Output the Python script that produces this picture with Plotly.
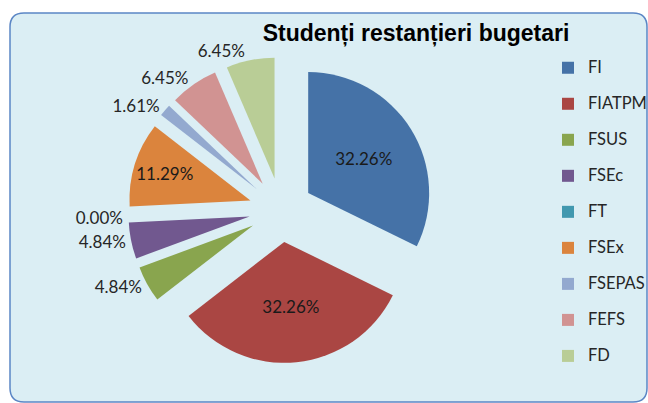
import plotly.graph_objects as go

categories = ["FI", "FIATPM", "FSUS", "FSEc", "FT", "FSEx", "FSEPAS", "FEFS", "FD"]
values = [32.26, 32.26, 4.84, 4.84, 0.00, 11.29, 1.61, 6.45, 6.45]
colors = ["#4572A7", "#AA4643", "#89A54E", "#71588F", "#4198AF",
          "#DB843D", "#93A9CF", "#D19392", "#B9CD96"]
text_positions = ["inside", "inside", "outside", "outside", "outside",
                  "inside", "outside", "outside", "outside"]
title_text = "Studenți restanțieri bugetari"

W, H = 648, 403

# legend labels: larger text, plus a blank line to widen entry spacing
legend_labels = [f"<span style='font-size:16.5px'>{c}</span><br> " for c in categories]

fig = go.Figure()
fig.add_trace(go.Pie(
    labels=legend_labels,
    values=values,
    sort=False,
    direction="clockwise",
    rotation=0,
    pull=0.265,
    marker=dict(colors=colors, line=dict(width=0)),
    texttemplate="%{percent:.2%}",
    textposition=text_positions,
    insidetextorientation="horizontal",
    insidetextfont=dict(family="Lato", size=17, color="#1a1a1a"),
    outsidetextfont=dict(family="Lato", size=17, color="#262626"),
    hoverinfo="skip",
    domain=dict(x=[128 / W, 434 / W], y=[40 / H, 346 / H]),
))

# rounded background panel
x0, x1 = 10 / W, 647 / W
y0, y1 = 1 - 402 / H, 1 - 13 / H
rx, ry = 14 / W, 14 / H
path = (f"M{x0 + rx},{y1} L{x1 - rx},{y1} Q{x1},{y1} {x1},{y1 - ry} "
        f"L{x1},{y0 + ry} Q{x1},{y0} {x1 - rx},{y0} "
        f"L{x0 + rx},{y0} Q{x0},{y0} {x0},{y0 + ry} "
        f"L{x0},{y1 - ry} Q{x0},{y1} {x0 + rx},{y1} Z")

fig.update_layout(
    width=W, height=H,
    margin=dict(l=0, r=0, t=0, b=0, autoexpand=False),
    paper_bgcolor="white",
    plot_bgcolor="white",
    shapes=[dict(type="path", path=path, xref="paper", yref="paper",
                 fillcolor="#DBEEF4", line=dict(color="#5B86C5", width=1.5),
                 layer="below")],
    title=dict(text=f"<b>{title_text}</b>", x=416 / W, xanchor="center",
               y=1 - 33 / H, yanchor="middle",
               font=dict(family="Liberation Sans", size=23, color="#000000")),
    legend=dict(x=548 / W, xanchor="left", y=1 - 53 / H, yanchor="top",
                valign="top", bgcolor="rgba(0,0,0,0)",
                font=dict(family="Lato", size=12.7, color="#262626")),
    showlegend=True,
)

fig.write_html("out.html", config={"displayModeBar": False},
               post_script="document.body.style.margin='0';")
